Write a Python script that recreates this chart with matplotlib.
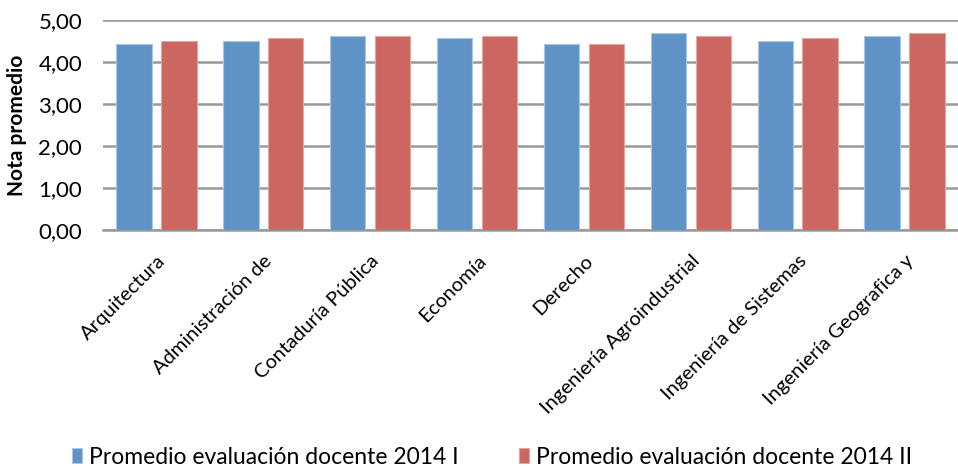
import numpy as np
import matplotlib
matplotlib.use('Agg')
import matplotlib.pyplot as plt
from matplotlib.ticker import FuncFormatter

plt.rcParams['font.family'] = ['Lato', 'DejaVu Sans']

programas = ['Arquitectura', 'Administración de', 'Contaduría Pública', 'Economía',
             'Derecho', 'Ingeniería Agroindustrial', 'Ingeniería de Sistemas',
             'Ingeniería Geografica y']
prom_2014_I = [4.44, 4.50, 4.63, 4.56, 4.44, 4.69, 4.50, 4.63]
prom_2014_II = [4.50, 4.56, 4.63, 4.63, 4.44, 4.63, 4.56, 4.69]

fig = plt.figure(figsize=(9.58, 4.66), dpi=100)
ax = fig.add_axes([103 / 958, 1 - 230 / 466, 855 / 958, 210 / 466])

x = np.arange(len(programas))
w = 0.33
ax.bar(x - 0.21, prom_2014_I, w, color='#5F93C6', edgecolor='#A9C4E4', linewidth=0.8,
       label='Promedio evaluación docente 2014 I', zorder=3)
ax.bar(x + 0.21, prom_2014_II, w, color='#CC6660', edgecolor='#E4A5A1', linewidth=0.8,
       label='Promedio evaluación docente 2014 II', zorder=3)

ax.set_xlim(-0.5, len(programas) - 0.5)
ax.set_ylim(0, 5)
ax.set_yticks(np.arange(0, 6, 1))
ax.yaxis.set_major_formatter(FuncFormatter(lambda v, p: f'{v:.2f}'.replace('.', ',')))
ax.grid(axis='y', color='#999999', linewidth=1.8, zorder=0)
for s in ['top', 'right', 'left']:
    ax.spines[s].set_visible(False)
ax.spines['bottom'].set_color('#999999')
ax.spines['bottom'].set_linewidth(1.8)
ax.tick_params(axis='both', length=0, colors='black')
ax.tick_params(axis='y', labelsize=16, pad=15)

ax.set_xticks(x)
ax.set_xticklabels(programas, rotation=45, ha='right', rotation_mode='anchor', fontsize=14.5)
ax.tick_params(axis='x', pad=16)

ax.set_ylabel('Nota promedio', fontsize=15, fontweight='bold', labelpad=8)

ax.legend(loc='lower center', bbox_to_anchor=(0.455, -1.23), ncol=2, frameon=False,
          fontsize=16.5, handlelength=0.45, handleheight=0.6, handletextpad=0.3,
          columnspacing=2.6)

fig.savefig('out.png', dpi=100, facecolor='white')
